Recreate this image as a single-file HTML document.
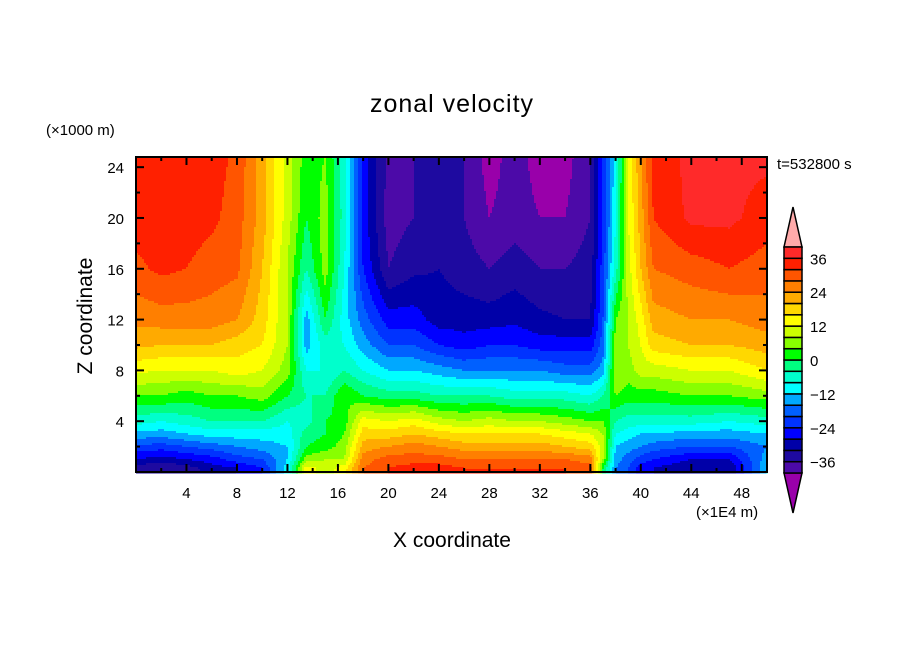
<!DOCTYPE html>
<html><head><meta charset="utf-8"><style>
body{margin:0;background:#fff;width:904px;height:654px;overflow:hidden;font-family:"Liberation Sans",sans-serif}
svg text{font-family:"Liberation Sans",sans-serif;fill:#000}
</style></head><body>
<svg id="chart" width="904" height="654" xmlns="http://www.w3.org/2000/svg">
<text x="452" y="112" font-size="25" text-anchor="middle" letter-spacing="1">zonal velocity</text>
<text x="46" y="135" font-size="15">(×1000 m)</text>
<text x="777" y="169" font-size="15">t=532800 s</text>
<text transform="translate(92,316) rotate(-90)" font-size="21" text-anchor="middle">Z coordinate</text>
<text x="452" y="547" font-size="21" text-anchor="middle">X coordinate</text>
<text x="696" y="517" font-size="15">(×1E4 m)</text>
<g id="field"></g>
<g id="axes"></g>
<g id="cbar"></g>
</svg>
<script>
const xs = [0,2,4,6,8,10,12,13.5,15,16.5,18,20,22,24,26,28,30,32,34,36,37,38,39,40,41,44,47,50];
const zs = [0.3,1,2,3,4,6,8,10,12,16,20,25];
const values = [
[-34,-28,-21,-13,-6,4,13,21,25,31,34,34],
[-36,-30,-22,-14,-8,4,12,20,26,33,34,34],
[-34,-28,-20,-12,-6,2,12,20,26,32,34,34],
[-30,-26,-18,-10,-4,4,12,20,26,30,33,34],
[-28,-22,-16,-10,-4,4,14,18,24,29,30,31],
[-24,-20,-14,-10,-4,6,12,16,18,20,22,22],
[-10,-12,-12,-10,-8,0,6,8,8,8,10,10],
[14,6,0,-2,-6,-4,-8,-14,-14,-4,0,2],
[10,8,2,0,0,-4,-8,-6,0,6,6,4],
[14,8,6,4,2,4,-4,-8,-10,-8,-6,-6],
[28,26,22,18,14,0,-8,-14,-18,-24,-26,-26],
[32,30,24,18,12,-2,-12,-20,-26,-36,-38,-37],
[34,30,26,20,14,-2,-12,-20,-26,-33,-36,-36],
[34,30,24,18,10,-4,-14,-24,-30,-32,-34,-36],
[32,28,22,16,8,-4,-16,-26,-30,-34,-36,-36],
[32,28,22,16,10,-4,-16,-24,-30,-36,-40,-42],
[32,28,22,16,8,-6,-16,-24,-29,-34,-38,-38],
[32,28,22,16,8,-6,-16,-26,-31,-36,-40,-42],
[32,28,20,14,6,-6,-18,-26,-32,-36,-40,-42],
[30,26,18,12,4,-8,-18,-26,-32,-34,-36,-36],
[0,8,10,8,4,-4,-14,-18,-20,-22,-24,-24],
[-16,-14,-12,-8,-4,4,8,6,4,-6,-8,-10],
[-20,-18,-14,-10,-6,2,6,8,8,10,12,12],
[-26,-22,-16,-12,-6,2,10,12,14,20,22,24],
[-28,-24,-18,-12,-6,2,10,18,22,28,32,34],
[-32,-28,-20,-14,-6,4,12,20,24,30,37,37],
[-32,-28,-20,-14,-8,4,12,20,24,32,37,37],
[-12,-14,-16,-12,-6,6,16,22,26,30,34,37]
];
const levelColors = ["#9900aa","#4c0aa8","#1e0aa0","#0000a8","#0000ff","#0033ff","#0060ff","#00a8ff","#00ffff","#00ffcc","#00ff80","#00ff00","#88ff00","#ccff00","#ffff00","#ffd800","#ffaa00","#ff7f00","#ff5500","#ff2000","#ff2a2a","#ffaaaa"];
const cbarLabels = [-36,-24,-12,0,12,24,36];
const xTicks = [4,8,12,16,20,24,28,32,36,40,44,48];
const yTicks = [4,8,12,16,20,24];

const NS="http://www.w3.org/2000/svg";
const L=136,R=767,T=157,B=472;
const X0=0,X1=50,Z0=0,Z1=24.8;
const sx=v=>L+(v-X0)/(X1-X0)*(R-L);
const sz=v=>B-(v-Z0)/(Z1-Z0)*(B-T);
const ix=p=>X0+(p-L)/(R-L)*(X1-X0);
const iz=p=>Z0+(B-p)/(B-T)*(Z1-Z0);
function mk(tag,attrs,parent){const e=document.createElementNS(NS,tag);for(const k in attrs)e.setAttribute(k,attrs[k]);parent.appendChild(e);return e;}
function seg(arr,v){let i=0;while(i<arr.length-2&&v>arr[i+1])i++;let t=(v-arr[i])/(arr[i+1]-arr[i]);t=Math.max(0,Math.min(1,t));return [i,t];}
function val(x,z){const [i,tx]=seg(xs,x);const [j,tz]=seg(zs,z);
 const a=values[i][j],b=values[i+1][j],c=values[i][j+1],d=values[i+1][j+1];
 return (a*(1-tx)+b*tx)*(1-tz)+(c*(1-tx)+d*tx)*tz;}
function colorIdx(v){if(v<-40)return 0;if(v>=40)return 21;return 1+Math.floor((v+40)/4);}
const field=document.getElementById('field');
const step=2;
function flush(py,x0,x1,ci){
 const r=mk('rect',{x:x0,y:py,width:x1-x0+0.5,height:step+0.5,fill:levelColors[ci]},field);
 
 
}
for(let py=T;py<B;py+=step){
 const z=iz(py+step/2);let runStart=L,cur=-1;
 for(let px=L;px<R;px+=step){
  const ci=colorIdx(val(ix(px+step/2),z));
  if(ci!==cur){
   if(cur>=0)flush(py,runStart,px,cur);
   cur=ci;runStart=px;}
 }
 if(cur>=0)flush(py,runStart,R,cur);
}
const axes=document.getElementById('axes');
mk('rect',{x:L,y:T,width:R-L,height:B-T,fill:'none',stroke:'#000','stroke-width':2},axes);
for(let v=2;v<50;v+=2){const major=v%4===0;const len=major?8:4;const x=sx(v);
 mk('line',{x1:x,y1:B,x2:x,y2:B-len,stroke:'#000','stroke-width':2},axes);
 mk('line',{x1:x,y1:T,x2:x,y2:T+len,stroke:'#000','stroke-width':2},axes);}
for(let v=2;v<25;v+=2){const major=v%4===0;const len=major?8:4;const y=sz(v);
 mk('line',{x1:L,y1:y,x2:L+len,y2:y,stroke:'#000','stroke-width':2},axes);
 mk('line',{x1:R,y1:y,x2:R-len,y2:y,stroke:'#000','stroke-width':2},axes);}
xTicks.forEach(v=>{const t=mk('text',{x:sx(v),y:498,'font-size':15,'text-anchor':'middle'},axes);t.textContent=v;
 
 });
yTicks.forEach(v=>{const t=mk('text',{x:124,y:sz(v)+6,'font-size':15,'text-anchor':'end'},axes);t.textContent=v;
 
 });
const cb=document.getElementById('cbar');
const CL=784,CR=802,CT=247,CB=473;const bh=(CB-CT)/20;
const cy=v=>CB-(v+40)/80*(CB-CT);
mk('polygon',{points:`${CL},${CT} ${(CL+CR)/2},207 ${CR},${CT}`,fill:levelColors[21],stroke:'#000','stroke-width':1.5},cb);
mk('polygon',{points:`${CL},${CB} ${(CL+CR)/2},513 ${CR},${CB}`,fill:levelColors[0],stroke:'#000','stroke-width':1.5},cb);
for(let k=0;k<20;k++){const lo=-40+k*4;
 const r=mk('rect',{x:CL,y:cy(lo+4),width:CR-CL,height:bh,fill:levelColors[k+1],stroke:'#000','stroke-width':1.5},cb);
 
 }
cbarLabels.forEach(v=>{const t=mk('text',{x:810,y:cy(v)+6,'font-size':15},cb);t.textContent=v<0?'\u2212'+(-v):v;
 
 });
</script>
</body></html>
